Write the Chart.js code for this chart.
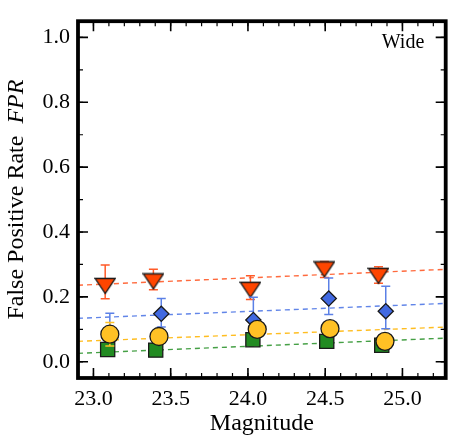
<!DOCTYPE html>
<html>
<head>
<meta charset="utf-8">
<script src="https://cdn.jsdelivr.net/npm/chart.js@4.4.1/dist/chart.umd.min.js"></script>
<style>
  html, body { margin: 0; padding: 0; background: #fff; }
</style>
</head>
<body>
<canvas id="fprChart" width="457" height="437"></canvas>
<script>
// axis ticks and limits
const xTicks = [23.0, 23.5, 24.0, 24.5, 25.0];
const yTicks = [0.0, 0.2, 0.4, 0.6, 0.8, 1.0];
const xLimits = [22.9, 25.28];
const yLimits = [-0.05, 1.05];

// red down-triangles
const redX  = [23.076, 23.388, 24.016, 24.495, 24.845];
const redY  = [0.234, 0.248, 0.222, 0.285, 0.265];
const redLo = [0.194, 0.222, 0.192, 0.260, 0.242];
const redHi = [0.298, 0.285, 0.265, 0.309, 0.293];

// blue diamonds
const blueX  = [23.106, 23.439, 24.035, 24.523, 24.892];
const blueY  = [0.088, 0.148, 0.129, 0.195, 0.156];
const blueLo = [0.025, 0.107, 0.060, 0.146, 0.102];
const blueHi = [0.150, 0.195, 0.199, 0.258, 0.233];

// yellow circles
const yellowX  = [23.106, 23.424, 24.060, 24.531, 24.887];
const yellowY  = [0.085, 0.078, 0.100, 0.102, 0.063];
const yellowLo = [0.049, 0.058, 0.080, 0.082, 0.043];
const yellowHi = [0.121, 0.098, 0.120, 0.122, 0.083];

// green squares
const greenX = [23.092, 23.403, 24.032, 24.510, 24.866];
const greenY = [0.038, 0.036, 0.068, 0.063, 0.051];

// dashed fit lines (value at left and right edge)
const fitX      = [22.9, 25.28];
const redFit    = [0.236, 0.285];
const blueFit   = [0.134, 0.180];
const yellowFit = [0.063, 0.107];
const greenFit  = [0.026, 0.073];

const serif = '"Liberation Serif", "DejaVu Serif", serif';

function pts(xs, ys) {
    return xs.map((x, i) => ({ x: x, y: ys[i] }));
}

// matplotlib-like 'v' marker, centred on its box
function triMarker(fill) {
    const c = document.createElement('canvas');
    c.width = 22; c.height = 18;
    const g = c.getContext('2d');
    g.beginPath();
    g.moveTo(1, 1.5); g.lineTo(21, 1.5); g.lineTo(11, 16.5); g.closePath();
    g.fillStyle = fill; g.fill();
    g.lineWidth = 1.3; g.strokeStyle = '#1a1a1a'; g.stroke();
    return c;
}

function fitLine(ys, color) {
    return {
        data: pts(fitX, ys),
        showLine: true,
        borderColor: color,
        borderWidth: 1.4,
        borderDash: [5, 4],
        pointRadius: 0,
        order: 10
    };
}

// error bars, ticks pointing in, frame, extra text
const framePlugin = {
    id: 'framePlugin',
    beforeDatasetDraw(chart, args) {
        const ds = chart.data.datasets[args.index];
        if (!ds.errLo) return;
        const ctx = chart.ctx, ys = chart.scales.y;
        ctx.save();
        ctx.strokeStyle = ds.errColor;
        ctx.lineWidth = 1.5;
        args.meta.data.forEach((p, i) => {
            const t = ys.getPixelForValue(ds.errHi[i]);
            const b = ys.getPixelForValue(ds.errLo[i]);
            ctx.beginPath();
            ctx.moveTo(p.x, t); ctx.lineTo(p.x, b);
            ctx.moveTo(p.x - 4.5, t); ctx.lineTo(p.x + 4.5, t);
            ctx.moveTo(p.x - 4.5, b); ctx.lineTo(p.x + 4.5, b);
            ctx.stroke();
        });
        ctx.restore();
    },
    afterDraw(chart) {
        const ctx = chart.ctx, a = chart.chartArea;
        const xs = chart.scales.x, ys = chart.scales.y;
        ctx.save();
        ctx.strokeStyle = '#000';

        // minor ticks every 0.1
        ctx.lineWidth = 1.2;
        ctx.beginPath();
        for (let k = 230; k <= 252; k++) {
            const px = xs.getPixelForValue(k / 10);
            ctx.moveTo(px, a.bottom); ctx.lineTo(px, a.bottom - 5);
            ctx.moveTo(px, a.top); ctx.lineTo(px, a.top + 5);
        }
        for (let k = 0; k <= 10; k++) {
            const py = ys.getPixelForValue(k / 10);
            ctx.moveTo(a.left, py); ctx.lineTo(a.left + 5, py);
            ctx.moveTo(a.right, py); ctx.lineTo(a.right - 5, py);
        }
        ctx.stroke();

        // major ticks
        ctx.lineWidth = 1.6;
        ctx.beginPath();
        xTicks.forEach(v => {
            const px = xs.getPixelForValue(v);
            ctx.moveTo(px, a.bottom); ctx.lineTo(px, a.bottom - 10);
            ctx.moveTo(px, a.top); ctx.lineTo(px, a.top + 10);
        });
        yTicks.forEach(v => {
            const py = ys.getPixelForValue(v);
            ctx.moveTo(a.left, py); ctx.lineTo(a.left + 10, py);
            ctx.moveTo(a.right, py); ctx.lineTo(a.right - 10, py);
        });
        ctx.stroke();

        // thick frame
        ctx.lineWidth = 3.8;
        ctx.strokeRect(a.left, a.top, a.right - a.left, a.bottom - a.top);

        // y title with italic FPR
        ctx.fillStyle = '#000';
        ctx.textBaseline = 'middle';
        ctx.textAlign = 'left';
        const f1 = '24px ' + serif, f2 = 'italic 24px ' + serif;
        const s1 = 'False Positive Rate  ', s2 = 'FPR';
        ctx.font = f1; const w1 = ctx.measureText(s1).width;
        ctx.font = f2; const w2 = ctx.measureText(s2).width;
        ctx.translate(17, (a.top + a.bottom) / 2);
        ctx.rotate(-Math.PI / 2);
        const x0 = -(w1 + w2) / 2;
        ctx.font = f1; ctx.fillText(s1, x0, 0);
        ctx.font = f2; ctx.fillText(s2, x0 + w1, 0);
        ctx.restore();

        // panel label
        ctx.save();
        ctx.font = '20px ' + serif;
        ctx.fillStyle = '#000';
        ctx.textAlign = 'center';
        ctx.textBaseline = 'alphabetic';
        ctx.fillText('Wide', 403, 48);
        ctx.restore();
    }
};

const canvas = document.getElementById('fprChart');

new Chart(canvas, {
    type: 'scatter',
    data: {
        datasets: [
            fitLine(redFit, 'rgba(255, 90, 40, 0.9)'),
            fitLine(blueFit, 'rgba(80, 120, 230, 0.9)'),
            fitLine(yellowFit, 'rgba(255, 185, 20, 0.95)'),
            fitLine(greenFit, 'rgba(50, 150, 50, 0.9)'),
            {
                data: pts(redX, redY),
                errLo: redLo, errHi: redHi, errColor: '#ff5a28',
                pointStyle: triMarker('#ff4500'),
                pointRadius: 10,
                order: 4
            },
            {
                data: pts(blueX, blueY),
                errLo: blueLo, errHi: blueHi, errColor: '#5b80e6',
                pointStyle: 'rectRot',
                pointRadius: 7.6,
                backgroundColor: '#4169e1',
                borderColor: '#1a1a1a',
                borderWidth: 1.3,
                order: 3
            },
            {
                data: pts(greenX, greenY),
                pointStyle: 'rect',
                pointRadius: 10,
                backgroundColor: '#228b22',
                borderColor: '#1a1a1a',
                borderWidth: 1.3,
                order: 2
            },
            {
                data: pts(yellowX, yellowY),
                errLo: yellowLo, errHi: yellowHi, errColor: '#ffc125',
                pointStyle: 'circle',
                pointRadius: 9,
                backgroundColor: '#ffc125',
                borderColor: '#1a1a1a',
                borderWidth: 1.3,
                order: 1
            }
        ]
    },
    options: {
        responsive: false,
        animation: false,
        events: [],
        layout: { padding: { top: 3, right: 5, left: 0, bottom: 0 } },
        plugins: {
            legend: { display: false },
            tooltip: { enabled: false }
        },
        scales: {
            x: {
                type: 'linear',
                min: xLimits[0],
                max: xLimits[1],
                grid: { display: false, drawTicks: false },
                border: { display: false },
                afterBuildTicks: s => { s.ticks = xTicks.map(v => ({ value: v })); },
                afterFit: s => { s.height = 59; },
                ticks: {
                    color: '#000',
                    padding: 8,
                    maxRotation: 0,
                    autoSkip: false,
                    font: { family: serif, size: 22 },
                    callback: v => v.toFixed(1)
                },
                title: {
                    display: true,
                    text: 'Magnitude',
                    color: '#000',
                    padding: { top: 0, bottom: 1 },
                    font: { family: serif, size: 24, lineHeight: 1 }
                }
            },
            y: {
                type: 'linear',
                min: yLimits[0],
                max: yLimits[1],
                grid: { display: false, drawTicks: false },
                border: { display: false },
                afterBuildTicks: s => { s.ticks = yTicks.map(v => ({ value: v })); },
                afterFit: s => { s.width = 78; },
                ticks: {
                    color: '#000',
                    padding: 8,
                    autoSkip: false,
                    font: { family: serif, size: 22 },
                    callback: v => v.toFixed(1)
                }
            }
        }
    },
    plugins: [framePlugin]
});
</script>
</body>
</html>
